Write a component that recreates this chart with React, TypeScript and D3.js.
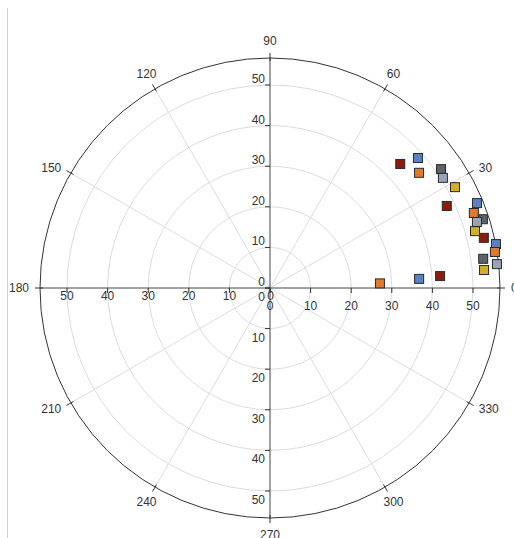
import React from "react";
import * as d3 from "d3";

// angle (deg), radius
const seriesNames = ["S1", "S2", "S3", "S4", "S5", "S6"];
const seriesColors = ["#8e1c0e", "#5b80c6", "#e07a2e", "#5d636b", "#9aa3ba", "#d4ae24"];
const s1: [number, number][] = [[43.6, 44.3], [24.9, 48.0], [13.2, 54.1], [4.0, 42.0]];
const s2: [number, number][] = [[41.3, 48.5], [22.3, 55.1], [11.0, 56.7], [3.5, 36.8]];
const s3: [number, number][] = [[37.7, 46.4], [20.2, 53.5], [9.1, 56.1], [2.4, 27.1]];
const s4: [number, number][] = [[34.8, 51.3], [17.9, 55.1], [7.8, 53.0]];
const s5: [number, number][] = [[32.5, 50.5], [17.7, 53.5], [6.0, 56.2]];
const s6: [number, number][] = [[28.6, 51.9], [15.5, 52.4], [4.8, 52.9]];
const allSeries = [s1, s2, s3, s4, s6, s5];
const drawColors = [0, 1, 2, 3, 5, 4];

const radialTicks = [0, 10, 20, 30, 40, 50];
const angleTicks = [0, 30, 60, 90, 120, 150, 180, 210, 240, 270, 300, 330];
const rMax = 56.65;

export default function App() {
  const W = 514, H = 538;
  const cx = 270, cy = 288, R = 230;
  const r = d3.scaleLinear().domain([0, rMax]).range([0, R]);
  const rad = (a: number) => (a * Math.PI) / 180;
  const px = (a: number, v: number) => cx + v * Math.cos(rad(a));
  const py = (a: number, v: number) => cy - v * Math.sin(rad(a));
  const font = "'Liberation Sans', Arial, sans-serif";
  const txt = "#333";

  const angleLabel = (a: number) => {
    const c = Math.cos(rad(a));
    if (c > 0.8) return { x: px(a, R + 11), y: py(a, R + 11), anchor: "start" };
    if (c < -0.8) return { x: px(a, R + 11), y: py(a, R + 11), anchor: "end" };
    return { x: px(a, R + 17), y: py(a, R + 17), anchor: "middle" };
  };

  return (
    <div style={{ position: "fixed", left: 0, top: 0, width: W, height: H, background: "#fff" }}>
      <svg width={W} height={H} style={{ display: "block" }} fontFamily={font} fontSize={12}>
        <line x1={7.5} y1={8} x2={7.5} y2={H} stroke="#d0d0d0" />
        {/* rings */}
        {radialTicks.filter((t) => t > 0).map((t) => (
          <circle key={t} cx={cx} cy={cy} r={r(t)} fill="none" stroke="#dcdcdc" />
        ))}
        {/* radial lines */}
        {angleTicks.filter((a) => a % 90 !== 0).map((a) => (
          <line key={a} x1={cx} y1={cy} x2={px(a, R)} y2={py(a, R)} stroke="#dcdcdc" />
        ))}
        {/* outer circle */}
        <circle cx={cx} cy={cy} r={R} fill="none" stroke="#333" />
        {/* main axes */}
        <line x1={cx - R} y1={cy} x2={cx + R} y2={cy} stroke="#444" />
        <line x1={cx} y1={cy - R} x2={cx} y2={cy + R} stroke="#444" />
        {/* angle ticks and labels */}
        {angleTicks.map((a) => {
          const l = angleLabel(a);
          return (
            <g key={a}>
              <line x1={px(a, R - 3)} y1={py(a, R - 3)} x2={px(a, R + 5)} y2={py(a, R + 5)} stroke="#333" />
              <text x={l.x} y={l.y} textAnchor={l.anchor as any} dominantBaseline="central" fill={txt}>
                {a}
              </text>
            </g>
          );
        })}
        {/* radial axis ticks */}
        {radialTicks.map((t) => (
          <g key={"ax" + t}>
            <line x1={cx - 5} y1={cy - r(t)} x2={cx} y2={cy - r(t)} stroke="#333" />
            <line x1={cx - 5} y1={cy + r(t)} x2={cx} y2={cy + r(t)} stroke="#333" />
            <line x1={cx + r(t)} y1={cy} x2={cx + r(t)} y2={cy + 5} stroke="#333" />
            <line x1={cx - r(t)} y1={cy} x2={cx - r(t)} y2={cy + 5} stroke="#333" />
            {/* top */}
            <text x={cx - 5} y={cy - r(t) - 2} textAnchor="end" fill={txt}>{t}</text>
            {/* bottom */}
            <text x={cx - 5} y={cy + r(t) + 13} textAnchor="end" fill={txt}>{t}</text>
            {/* right */}
            <text x={cx + r(t)} y={cy + 22} textAnchor="middle" fill={txt}>{t}</text>
            {/* left */}
            {t > 0 && (
              <text x={cx - r(t)} y={cy + 12} textAnchor="middle" fill={txt}>{t}</text>
            )}
          </g>
        ))}
        <text x={cx + 0.5} y={cy + 12} textAnchor="middle" fill={txt}>0</text>
        {/* points */}
        {allSeries.map((s, i) => (
          <g key={seriesNames[drawColors[i]]}>
            {s.map(([a, v], j) => (
              <rect
                key={j}
                x={px(a, r(v)) - 4.5}
                y={py(a, r(v)) - 4.5}
                width={9}
                height={9}
                fill={seriesColors[drawColors[i]]}
                stroke="#2a2a2a"
                strokeWidth={1}
              />
            ))}
          </g>
        ))}
      </svg>
    </div>
  );
}
